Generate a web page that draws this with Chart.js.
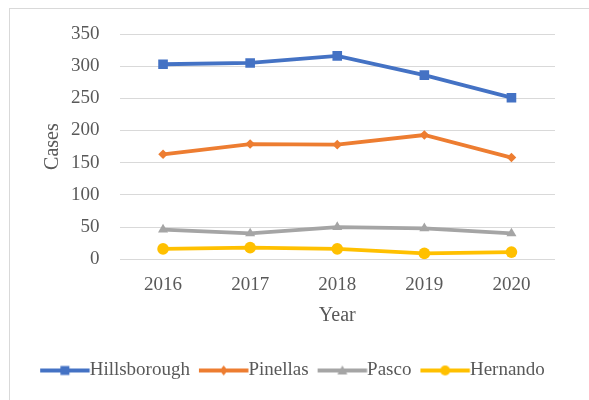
<!DOCTYPE html>
<html>
<head>
<meta charset="utf-8">
<script src="https://cdn.jsdelivr.net/npm/chart.js@4"></script>
<style>
  html, body { margin: 0; padding: 0; background: #fff; }
  #frame {
    position: absolute; left: 9px; top: 8px; width: 580px; height: 392px;
    border-left: 1px solid #d9d9d9; border-top: 1px solid #d9d9d9;
  }
  #wrap { position: absolute; left: 0; top: 0; width: 589px; height: 400px; }
</style>
</head>
<body>
<div id="frame"></div>
<div id="wrap"><canvas id="chart" width="589" height="400"></canvas></div>
<script>
const years = ['2016', '2017', '2018', '2019', '2020'];
const hillsborough = [303, 305, 316, 286, 251];
const pinellas = [163, 179, 178, 193, 158];
const pasco = [46, 40, 50, 48, 40];
const hernando = [16, 18, 16, 9, 11];
const yTicks = [0, 50, 100, 150, 200, 250, 300, 350];

const font = "'Liberation Serif', 'Times New Roman', serif";
const textColor = '#595959';
const legendFont = 19;
const legendBox = 40;

// legend icon: a short line with the series marker in the middle.
// The canvas is wider than the box so the line runs right up to the text.
function legendIcon(color, style) {
  const c = document.createElement('canvas');
  c.width = legendBox * 2 + 20; c.height = 12;
  const ctx = c.getContext('2d');
  const x0 = c.width / 2 - legendBox / 2;
  const x1 = x0 + legendBox + legendFont / 2;
  const m = (x0 + x1) / 2;
  ctx.strokeStyle = color;
  ctx.fillStyle = color;
  ctx.lineWidth = 4;
  ctx.beginPath();
  ctx.moveTo(x0, 6); ctx.lineTo(x1, 6);
  ctx.stroke();
  ctx.beginPath();
  if (style === 'rect') ctx.rect(m - 4.5, 1.5, 9, 9);
  else if (style === 'rectRot') { ctx.moveTo(m, 1); ctx.lineTo(m + 4, 6); ctx.lineTo(m, 11); ctx.lineTo(m - 4, 6); }
  else if (style === 'triangle') { ctx.moveTo(m, 1); ctx.lineTo(m + 5, 10); ctx.lineTo(m - 5, 10); }
  else ctx.arc(m, 6, 5, 0, Math.PI * 2);
  ctx.fill();
  return c;
}

function series(label, data, color, style, radius) {
  return {
    label: label,
    data: data,
    borderColor: color,
    backgroundColor: color,
    borderWidth: 3.8,
    pointStyle: style,
    pointRadius: radius,
    pointHoverRadius: radius,
    pointBorderWidth: 0,
    tension: 0,
    icon: legendIcon(color, style)
  };
}

new Chart(document.getElementById('chart'), {
  type: 'line',
  data: {
    labels: years,
    datasets: [
      series('Hillsborough', hillsborough, '#4472C4', 'rect', 6.8),
      series('Pinellas', pinellas, '#ED7D31', 'rectRot', 4.8),
      series('Pasco', pasco, '#A5A5A5', 'triangle', 5.8),
      series('Hernando', hernando, '#FFC000', 'circle', 5.8)
    ]
  },
  options: {
    responsive: false,
    animation: false,
    layout: { padding: { left: 30, right: 34, top: 34, bottom: 10 } },
    plugins: {
      tooltip: { enabled: false },
      legend: {
        position: 'bottom',
        labels: {
          color: textColor,
          font: { family: font, size: legendFont },
          usePointStyle: true,
          pointStyleWidth: legendBox,
          padding: 9,
          generateLabels(chart) {
            return chart.data.datasets.map((ds, i) => ({
              text: ds.label,
              fillStyle: ds.borderColor,
              strokeStyle: ds.borderColor,
              fontColor: textColor,
              pointStyle: ds.icon,
              lineWidth: 0,
              datasetIndex: i,
              hidden: false
            }));
          }
        }
      }
    },
    scales: {
      x: {
        offset: true,
        grid: { display: false },
        border: { display: false },
        ticks: { color: textColor, font: { family: font, size: 19 }, padding: 6 },
        title: { display: true, text: 'Year', color: textColor, font: { family: font, size: 20 }, padding: { top: 2, bottom: 24 } }
      },
      y: {
        min: 0,
        max: 350,
        afterBuildTicks(axis) { axis.ticks = yTicks.map(v => ({ value: v })); },
        grid: { color: '#d9d9d9', lineWidth: 1, drawTicks: false },
        border: { display: false },
        ticks: { color: textColor, font: { family: font, size: 19 }, padding: 20 },
        title: { display: true, text: 'Cases', color: textColor, font: { family: font, size: 20 }, padding: { top: 11, bottom: -14 } }
      }
    }
  }
});
</script>
</body>
</html>
